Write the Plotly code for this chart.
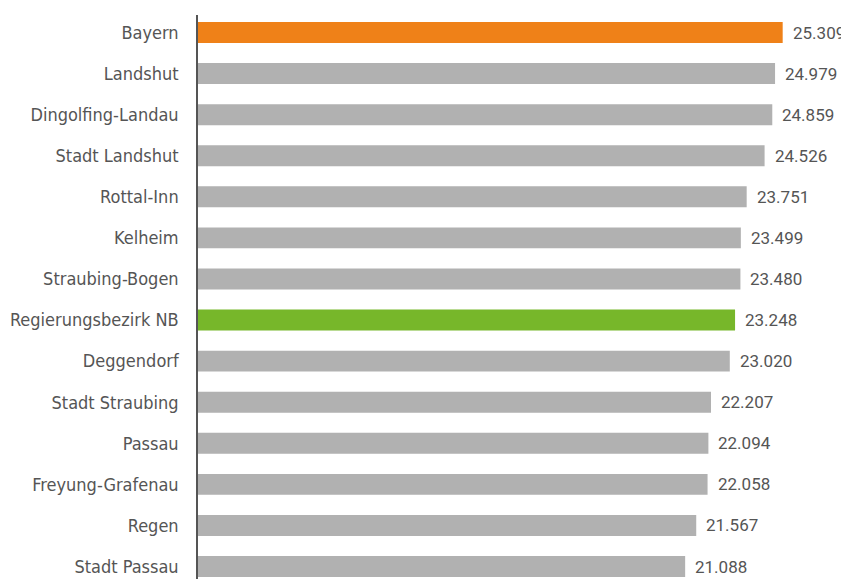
import plotly.graph_objects as go

categories = ["Bayern", "Landshut", "Dingolfing-Landau", "Stadt Landshut", "Rottal-Inn",
              "Kelheim", "Straubing-Bogen", "Regierungsbezirk NB", "Deggendorf",
              "Stadt Straubing", "Passau", "Freyung-Grafenau", "Regen", "Stadt Passau"]
values = [25309, 24979, 24859, 24526, 23751, 23499, 23480, 23248, 23020,
          22207, 22094, 22058, 21567, 21088]

GRAY = "#b1b1b1"
ORANGE = "#ef8118"
GREEN = "#77b72a"
colors = [ORANGE if c == "Bayern" else GREEN if c == "Regierungsbezirk NB" else GRAY
          for c in categories]

labels = [f"{v:,}".replace(",", ".") for v in values]

fig = go.Figure()
fig.add_trace(go.Bar(
    x=values, y=categories, orientation="h",
    marker=dict(color=colors, line=dict(width=0)),
    width=0.51, hoverinfo="skip", cliponaxis=False,
))

for c, v, t in zip(categories, values, labels):
    fig.add_annotation(x=v, y=c, text=t, showarrow=False, xanchor="left",
                       yanchor="middle", xshift=8,
                       font=dict(family="Roboto", size=17, color="#555555"))

# page body has an 8px default margin, so figure is 8px smaller than the window
fig.update_layout(
    width=841, height=571,
    margin=dict(l=190, r=0, t=7, b=0, autoexpand=False),
    paper_bgcolor="white", plot_bgcolor="white",
    showlegend=False,
    xaxis=dict(range=[0, 28180], showgrid=False, zeroline=False, showticklabels=False,
               showline=False, ticks="", automargin=False),
    yaxis=dict(type="category", categoryarray=categories, range=[13.304, -0.426],
               showgrid=False, zeroline=False, showline=True, linecolor="#555555",
               linewidth=1.5, ticks="", ticklabelstandoff=14, automargin=False,
               tickfont=dict(family="Liberation Sans Narrow, DejaVu Sans Condensed, sans-serif",
                             size=18, color="#555555")),
)

fig.write_html("out.html")
